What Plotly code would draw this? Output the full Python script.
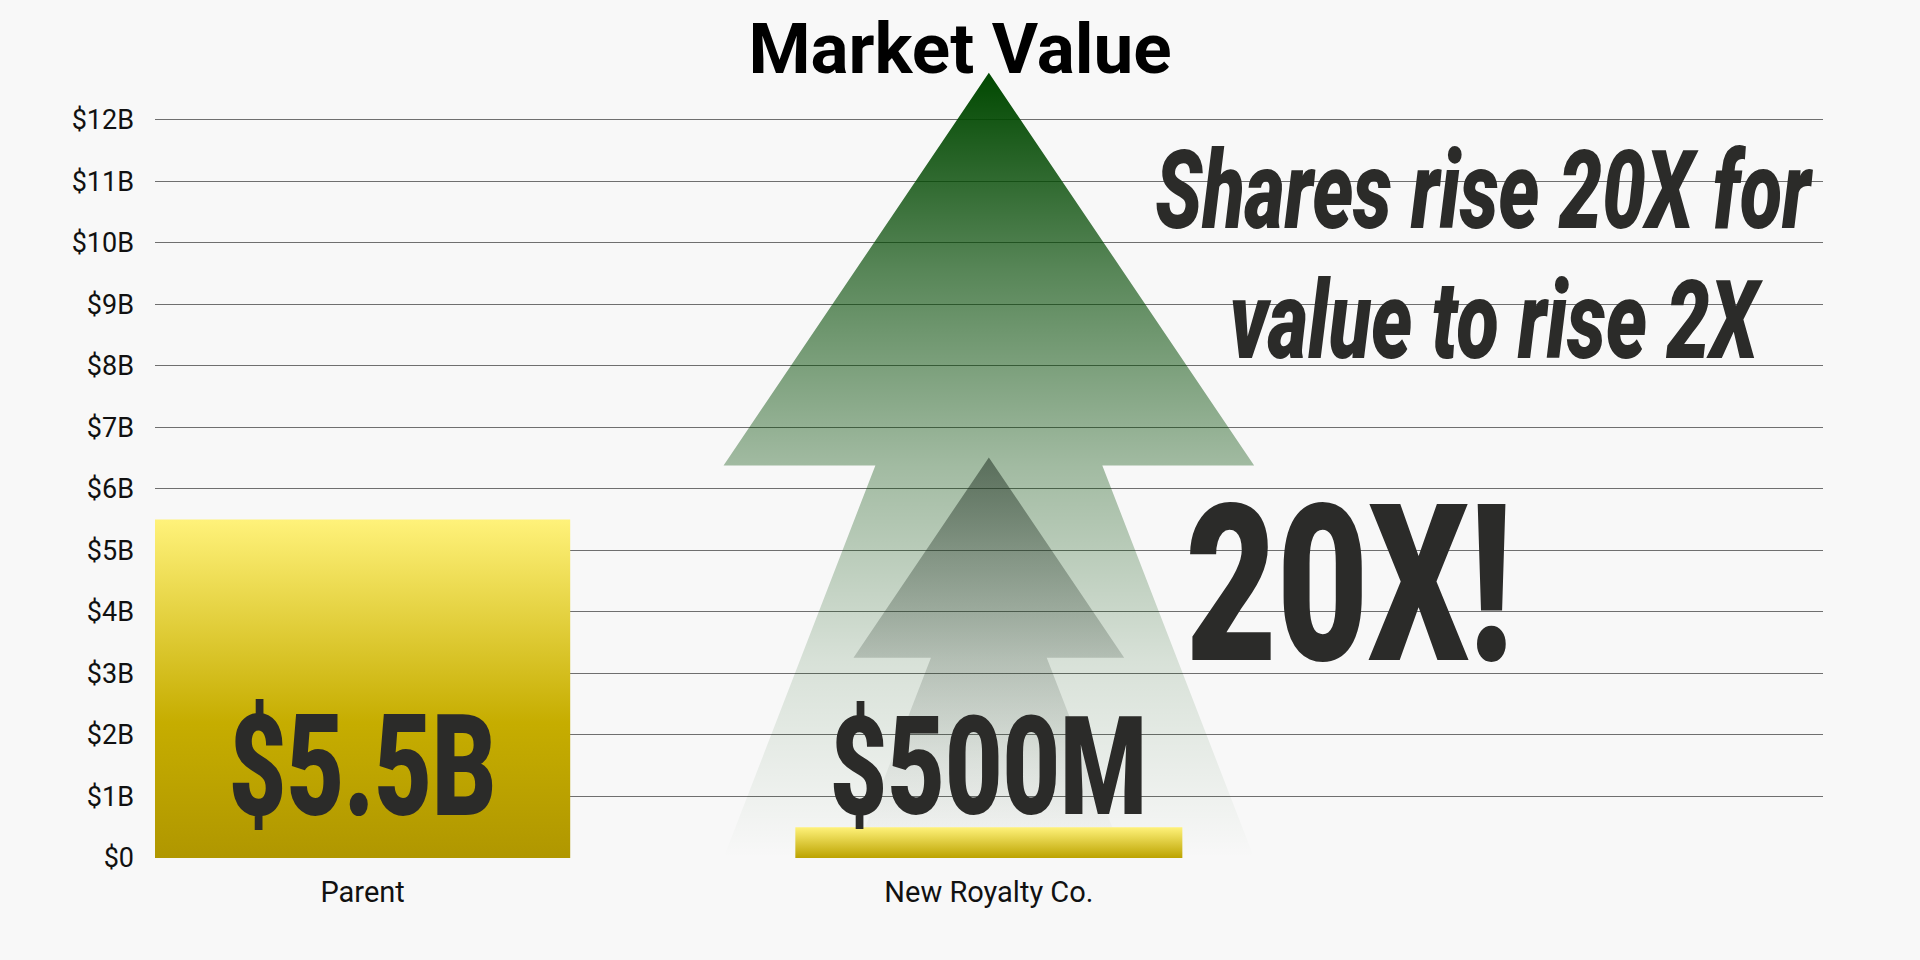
import plotly.graph_objects as go

# ---------------- data ----------------
categories = ["Parent", "New Royalty Co."]
market_values_b = [5.5, 0.5]            # market value, $ billions
value_labels = ["$5.5B", "$500M"]
y_tick_values = [0, 1, 2, 3, 4, 5, 6, 7, 8, 9, 10, 11, 12]
y_tick_labels = ["$0", "$1B", "$2B", "$3B", "$4B", "$5B", "$6B",
                 "$7B", "$8B", "$9B", "$10B", "$11B", "$12B"]
headline_lines = ["Shares rise 20X for", "value to rise 2X"]
multiple_label = "20X!"
arrow_tip_values = [12.76, 6.51]        # heights (in $B) of the two growth arrows

# ---------------- styles ----------------
BG = "#f8f8f8"
TEXT_DARK = "#2b2b29"
bar_widths = [0.663, 0.618]
bar_scale = [[0, "#b09700"], [0.4, "#c6ad00"], [1, "#fff27a"]]
small_bar_scale = [[0, "#bca300"], [1, "#fff27a"]]
big_arrow_scale = [[0, "rgba(0,72,0,0)"], [0.25, "rgba(0,72,0,0.13)"],
                   [0.5, "rgba(0,72,0,0.35)"], [0.75, "rgba(0,72,0,0.65)"],
                   [1, "rgba(0,72,0,1)"]]
small_arrow_scale = [[0, "rgba(35,52,38,0)"], [0.25, "rgba(35,52,38,0.07)"],
                     [0.5, "rgba(35,52,38,0.2)"], [0.75, "rgba(35,52,38,0.36)"],
                     [1, "rgba(35,52,38,0.56)"]]

fig = go.Figure()

# growth arrows (centred on the New Royalty Co. category)
def arrow_path(center, tip):
    barb_y = tip * 0.5
    barb_half = tip * 0.0332
    inner_half = tip * 0.0142
    xs = [center, center + barb_half, center + inner_half, center + barb_half,
          center - barb_half, center - inner_half, center - barb_half, center]
    ys = [tip, barb_y, barb_y, 0, 0, barb_y, barb_y, tip]
    return xs, ys

for tip, scale in zip(arrow_tip_values, [big_arrow_scale, small_arrow_scale]):
    xs, ys = arrow_path(1, tip)
    fig.add_trace(go.Scatter(x=xs, y=ys, mode="lines", fill="toself",
                             line=dict(width=0), hoverinfo="skip",
                             fillgradient=dict(type="vertical", colorscale=scale),
                             showlegend=False))

# bars with vertical gold gradient
for i, (v, w) in enumerate(zip(market_values_b, bar_widths)):
    xs = [i - w / 2, i + w / 2, i + w / 2, i - w / 2, i - w / 2]
    ys = [0, 0, v, v, 0]
    fig.add_trace(go.Scatter(x=xs, y=ys, mode="lines", fill="toself",
                             line=dict(width=0), name=categories[i],
                             fillgradient=dict(type="vertical",
                                               colorscale=bar_scale if i == 0 else small_bar_scale),
                             showlegend=False))

HEAVY = "Roboto"
annotations = [
    dict(x=0, y=1.49, text=value_labels[0],
         font=dict(family=HEAVY, size=141, color=TEXT_DARK, weight=900)),
    dict(x=1, y=1.48, text=value_labels[1],
         font=dict(family=HEAVY, size=138, color=TEXT_DARK, weight=900)),
    dict(x=1.575, y=4.43, text=multiple_label,
         font=dict(family=HEAVY, size=219, color=TEXT_DARK, weight=900)),
    dict(x=1.792, y=10.85, text=headline_lines[0],
         font=dict(family=HEAVY, size=110, color=TEXT_DARK, weight=900, style="italic")),
    dict(x=1.811, y=8.73, text=headline_lines[1],
         font=dict(family=HEAVY, size=110, color=TEXT_DARK, weight=900, style="italic")),
]
for a in annotations:
    a.update(xref="x", yref="y", showarrow=False, xanchor="center", yanchor="middle")

fig.update_layout(
    width=1920, height=960,
    paper_bgcolor=BG, plot_bgcolor=BG,
    margin=dict(l=155, r=97, t=58, b=102),
    title=dict(text="Market Value", x=0.5, xref="container", xanchor="center",
               y=1 - 48 / 960, yref="container", yanchor="middle",
               font=dict(family="Roboto", size=71, color="#000000", weight=700)),
    xaxis=dict(range=[-0.3315, 2.332], tickvals=[0, 1], ticktext=categories,
               showgrid=False, zeroline=False, showline=False, ticks="",
               ticklabelstandoff=14,
               tickfont=dict(family="Roboto", size=29, color="#111111"),
               fixedrange=True),
    yaxis=dict(range=[0, 13], tickvals=y_tick_values, ticktext=y_tick_labels,
               showgrid=True, gridcolor="#6f6f6f", gridwidth=1,
               zeroline=False, showline=False, ticks="",
               ticklabelstandoff=20,
               tickfont=dict(family="Roboto", size=27, color="#111111"),
               fixedrange=True),
    annotations=annotations,
    showlegend=False,
)

x_scales = [0.706, 0.72, 0.72, 0.704, 0.707]
css = "body{margin:0;background:%s;}" % BG + "".join(
    '.annotation[data-index="%d"] .annotation-text{transform-box:fill-box;'
    'transform-origin:center;transform:scaleX(%s);}' % (i, s)
    for i, s in enumerate(x_scales)
)
post = ("var s=document.createElement('style');s.textContent='%s';"
        "document.head.appendChild(s);" % css)

fig.write_html("out.html", post_script=post, config={"displayModeBar": False})
